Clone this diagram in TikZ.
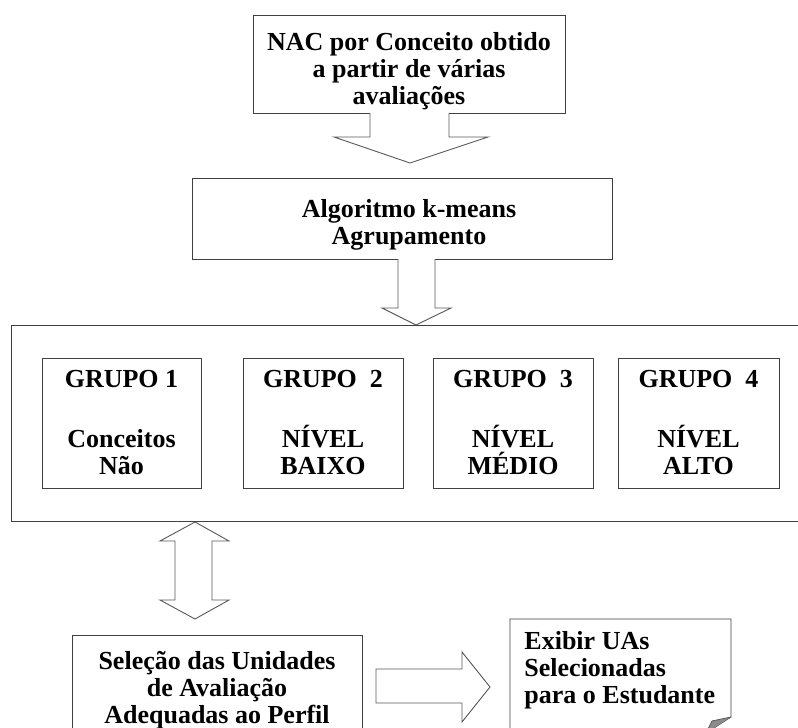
\documentclass[tikz,border=0pt]{standalone}
\usepackage{fontspec}
\setmainfont{Liberation Serif}
\begin{document}
\begin{tikzpicture}[x=1pt,y=-1pt,
  line width=0.9pt,
  lbl/.style={font=\bfseries\fontsize{26}{27}\selectfont, text=black, align=center, inner sep=0pt},
  boxc/.style={draw=black!75, fill=white},
  blockarrow/.style={draw=black!65, fill=white, line width=0.9pt, line join=miter},
  grp/.style={boxc, minimum width=159pt, minimum height=130pt, inner sep=0pt,
    font=\bfseries\fontsize{26}{27}\selectfont, align=center}
]
\useasboundingbox (0,0) rectangle (798,728);
\clip (0,0) rectangle (798,728);
\fill[white] (0,0) rectangle (798,728);

% top box
\draw[boxc] (253,15) rectangle (565,113);
\node[lbl] (top) at (409,71) {NAC por Conceito obtido\\a partir de várias\\avaliações};
% arrow 1
\draw[blockarrow] (370,113) -- (370,137) -- (334,137) -- (410,163) -- (488,137) -- (449,137) -- (449,113);

% second box
\draw[boxc] (192,178) rectangle (612,259);
\node[lbl] (algo) at (409,225) {Algoritmo k-means\\Agrupamento};
% arrow 2
\draw[blockarrow] (398,259) -- (398,308) -- (382,308) -- (416,325) -- (451,308) -- (435,308) -- (435,259);

% container
\draw[boxc] (11,325) rectangle (830,521);
\coordinate (cont) at (420,423);

% groups
\node[grp] (g1) at (121.5,423) {GRUPO 1\\[33pt]Conceitos\\Não};
\node[grp, minimum width=160pt] (g2) at (323,423) {GRUPO~~2\\[33pt]NÍVEL\\BAIXO};
\node[grp, minimum width=160pt] (g3) at (513,423) {GRUPO~~3\\[33pt]NÍVEL\\MÉDIO};
\node[grp, minimum width=161pt] (g4) at (698.5,423) {GRUPO~~4\\[33pt]NÍVEL\\ALTO};

% double arrow
\draw[blockarrow] (195,522) -- (229,541) -- (212,541) -- (212,600) -- (229,600) -- (195,619)
  -- (160,600) -- (175,600) -- (175,541) -- (160,541) -- cycle;

% bottom left box
\draw[boxc] (72,635) rectangle (362,780);
\node[lbl] (sel) at (217,690) {Seleção das Unidades\\de Avaliação\\Adequadas ao Perfil};

% right arrow
\draw[blockarrow] (376,669) -- (462,669) -- (462,652) -- (490,687) -- (462,722) -- (462,703) -- (376,703) -- cycle;

% note box with curled corner
\draw[boxc] (510,760) -- (510,619) -- (731,619) -- (731,717) -- (706,733) -- (600,760) -- cycle;
\fill[black!45] (706,733) -- (712,721) -- (731,717) -- cycle;
\draw[black!65, line width=0.8pt] (706,733) -- (712,721) -- (731,717);
\node[lbl, align=left, anchor=west] (exib) at (524,670) {Exibir UAs\\Selecionadas\\para o Estudante};
\end{tikzpicture}
\end{document}
